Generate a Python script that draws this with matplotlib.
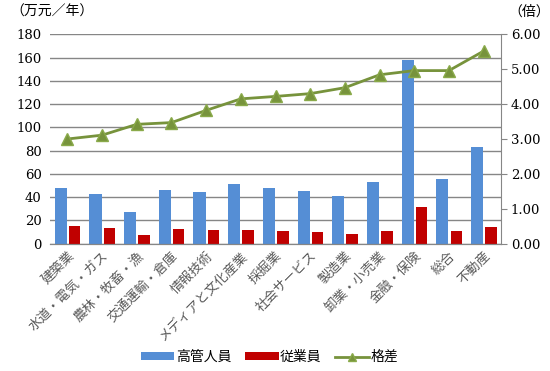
import matplotlib.pyplot as plt
import numpy as np

plt.rcParams['font.family'] = ['Noto Sans CJK JP', 'DejaVu Sans']

categories = ['建築業', '水道・電気・ガス', '農林・牧畜・漁', '交通運輸・倉庫', '情報技術',
              'メディアと文化産業', '採掘業', '社会サービス', '製造業', '卸業・小売業',
              '金融・保険', '総合', '不動産']
managers = [47.6, 42.7, 27.3, 46.2, 44.5, 51.3, 47.6, 45.3, 41.0, 53.0, 158.0, 55.7, 83.2]
employees = [15.2, 13.5, 7.5, 12.6, 11.8, 11.8, 11.2, 10.0, 8.3, 11.0, 31.5, 11.0, 14.4]
ratio = [3.00, 3.11, 3.42, 3.47, 3.82, 4.15, 4.22, 4.30, 4.47, 4.84, 4.96, 4.96, 5.52]

blue = '#558ed5'
red = '#c00000'
green = '#77933c'
grid_c = '#868686'

fig = plt.figure(figsize=(5.5, 3.71), dpi=100)
ax = fig.add_axes([50/550, 1-243.7/371, 451/550, 209.4/371])
ax2 = ax.twinx()

x = np.arange(len(categories))
ax.bar(x - 0.19, managers, width=0.35, color=blue, label='高管人員', zorder=2)
ax.bar(x + 0.21, employees, width=0.33, color=red, label='従業員', zorder=2)
ax2.plot(x, ratio, color=green, lw=2, marker='^', ms=8, mfc=green, mec='#8aaa4a',
         label='格差', zorder=3)

ax.set_xlim(-0.5, len(categories) - 0.5)
ax.set_ylim(0, 180)
ax.set_yticks(range(0, 181, 20))
ax2.set_ylim(0, 6)
ax2.set_yticks(np.arange(0, 6.01, 1))
ax2.set_yticklabels(['%.2f' % v for v in np.arange(0, 6.01, 1)])

ax.yaxis.grid(True, color=grid_c, lw=1, zorder=0)
ax.set_axisbelow(True)
for s in ['top', 'left']:
    ax.spines[s].set_visible(False)
    ax2.spines[s].set_visible(False)
ax.spines['right'].set_visible(False)
ax2.spines['right'].set_color(grid_c)
ax2.spines['bottom'].set_color(grid_c)
ax.spines['bottom'].set_color(grid_c)

ax.tick_params(axis='y', length=0, pad=6)
ax2.tick_params(axis='y', length=4, color=grid_c, pad=3)
for lbl in ax.get_yticklabels() + ax2.get_yticklabels():
    lbl.set_fontfamily('DejaVu Serif')
    lbl.set_fontsize(9.5)

ax.set_xticks(x)
ax.set_xticklabels(categories, rotation=45, ha='right', rotation_mode='anchor',
                   fontsize=9.5, color='#595959')
ax.tick_params(axis='x', length=0, pad=4)

fig.text(10/550, 1-12/371, '（万元／年）', fontsize=10, va='center', ha='left')
fig.text(508/550, 1-12/371, '（倍）', fontsize=10, va='center', ha='left')

h1, l1 = ax.get_legend_handles_labels()
h2, l2 = ax2.get_legend_handles_labels()
fig.legend(h1 + h2, l1 + l2, loc='center', bbox_to_anchor=(0.49, 1-357/371), ncol=3,
           frameon=False, fontsize=10, handlelength=2.4, handleheight=0.5,
           handletextpad=0.1, columnspacing=1.0, markerscale=0.7)

fig.savefig('out.png', dpi=100)
